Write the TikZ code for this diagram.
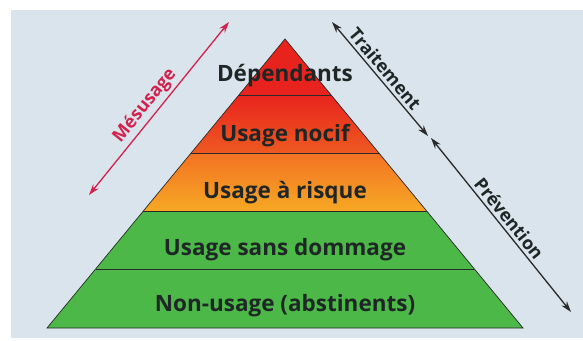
\documentclass[tikz,border=0pt]{standalone}
\usepackage{fontspec}
\setmainfont{Open Sans}
\usetikzlibrary{calc,arrows.meta}
\definecolor{fond}{HTML}{D9E4EC}
\definecolor{rouge}{HTML}{E8231E}
\definecolor{rougeb}{HTML}{EE5A21}
\definecolor{orangea}{HTML}{F37223}
\definecolor{orangeb}{HTML}{F6A824}
\definecolor{vert}{HTML}{4CB847}
\definecolor{mesus}{HTML}{D4224E}
\definecolor{sombre}{HTML}{2A2A2A}
\definecolor{texte}{HTML}{1E2626}

\begin{document}
\begin{tikzpicture}[x=1pt,y=-1pt,
	niveau/.style={font=\bfseries\fontsize{22.5}{24}\selectfont,text=texte},
	legende/.style={font=\bfseries\fontsize{18}{20}\selectfont,sloped,above,inner sep=3pt},
	fleche/.style={{Stealth[length=11pt,width=7pt]}-{Stealth[length=11pt,width=7pt]},line width=1.3pt},
	trait/.style={draw=sombre,line width=0.7pt}]
		\useasboundingbox (0,0) rectangle (583,340);
		\fill[fond] (11,10) rectangle (583,338);
		% pyramide
		\coordinate (A) at (285,39);
		\coordinate (L) at (47,328);
		\coordinate (R) at (523,328);
		\foreach \t/\n in {0.1938/1,0.3945/2,0.5952/3,0.7958/4}{
			\coordinate (g\n) at ($(A)!\t!(L)$);
			\coordinate (d\n) at ($(A)!\t!(R)$);
		}
		\fill[rouge] (A) -- (g1) -- (d1) -- cycle;
		\shade[top color=rouge,bottom color=rougeb] (g1) -- (g2) -- (d2) -- (d1) -- cycle;
		\shade[top color=orangea,bottom color=orangeb] (g2) -- (g3) -- (d3) -- (d2) -- cycle;
		\fill[vert] (g3) -- (L) -- (R) -- (d3) -- cycle;
		\draw[trait] (g1) -- (d1) (g2) -- (d2) (g3) -- (d3) (g4) -- (d4);
		\draw[trait] (A) -- (L) -- (R) -- cycle;
		\node[niveau] (dep) at (285,76) {Dépendants};
		\node[niveau] (noc) at (285,136) {Usage nocif};
		\node[niveau] (ris) at (285,193) {Usage à risque};
		\node[niveau] (sans) at (285,250) {Usage sans dommage};
		\node[niveau] (non) at (285,306) {Non-usage (abstinents)};
		% fleches
		\coordinate (m1) at (89,195);
		\coordinate (m2) at (229,22);
		\coordinate (t1) at (332,22);
		\coordinate (t2) at (428,136);
		\coordinate (p1) at (431,138);
		\coordinate (p2) at (571,312);
		\draw[fleche,mesus] (m1) -- node[legende,pos=0.47,text=mesus] (lmes) {Mésusage} (m2);
		\draw[fleche,sombre] (t1) -- node[legende,pos=0.47,text=texte] (ltra) {Traitement} (t2);
		\draw[fleche,sombre] (p1) -- node[legende,pos=0.5,text=texte] (lpre) {Prévention} (p2);
\end{tikzpicture}
\end{document}
